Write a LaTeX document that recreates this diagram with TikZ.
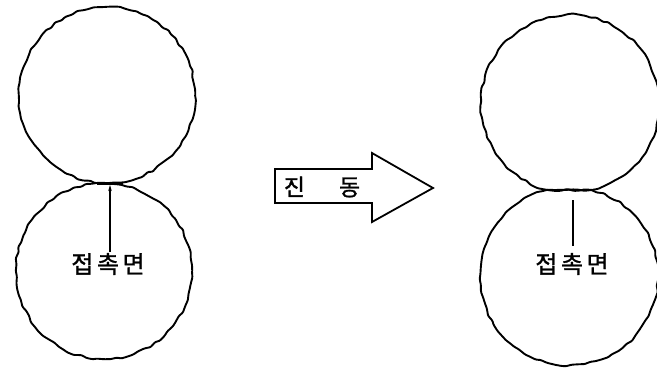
\documentclass[tikz,border=0pt]{standalone}
\usepackage{fontspec}
\usepackage{tikz}
\usetikzlibrary{decorations.pathmorphing, arrows.meta}
\newfontfamily\kr[LetterSpace=15, FakeBold=1.2]{Noto Sans CJK KR}

\begin{document}
\begin{tikzpicture}[x=1pt, y=-1pt,
    rough/.style={line width=1.9pt, rounded corners=1pt,
                  decorate, decoration={random steps, segment length=6pt, amplitude=1.1pt}},
    label/.style={font=\kr\fontsize{24}{24}\selectfont, inner sep=1pt},
    pointer/.style={line width=1.6pt}
]
    \useasboundingbox (0,0) rectangle (657,369);

    % Left pair (before)
    \draw[rough] (107,95) circle[radius=88];
    \draw[rough] (104,271) circle[radius=88];
    \coordinate (t1) at (110,185);
    \draw[line width=3pt] (97,183) -- (123,183);
    \node[label] (lbl1) at (108,264) {접촉면};
    \draw[pointer, -{Stealth[length=6pt, width=3.5pt]}] (lbl1.north -| t1) -- (t1);

    % Vibration arrow
    \draw[line width=1.8pt] (275,169) -- (372,169) -- (372,153) -- (433,188)
        -- (372,222) -- (372,203) -- (275,203) -- cycle;
    \node[font=\kr\fontsize{23}{23}\selectfont, inner sep=0pt] (vib) at (322,187)
        {진\hspace{34pt}동};

    % Right pair (after)
    \draw[rough] (592,190) arc[start angle=75.7, end angle=-255.7, radius=89] -- cycle;
    \draw[rough] (591,190) arc[start angle=-75.7, end angle=255.7, radius=89] -- cycle;
    \coordinate (t2) at (573,190);
    \node[label] (lbl2) at (572,264) {접촉면};
    \draw[pointer, shorten >=10pt, shorten <=6pt] (lbl2.north -| t2) -- (t2);
\end{tikzpicture}
\end{document}
